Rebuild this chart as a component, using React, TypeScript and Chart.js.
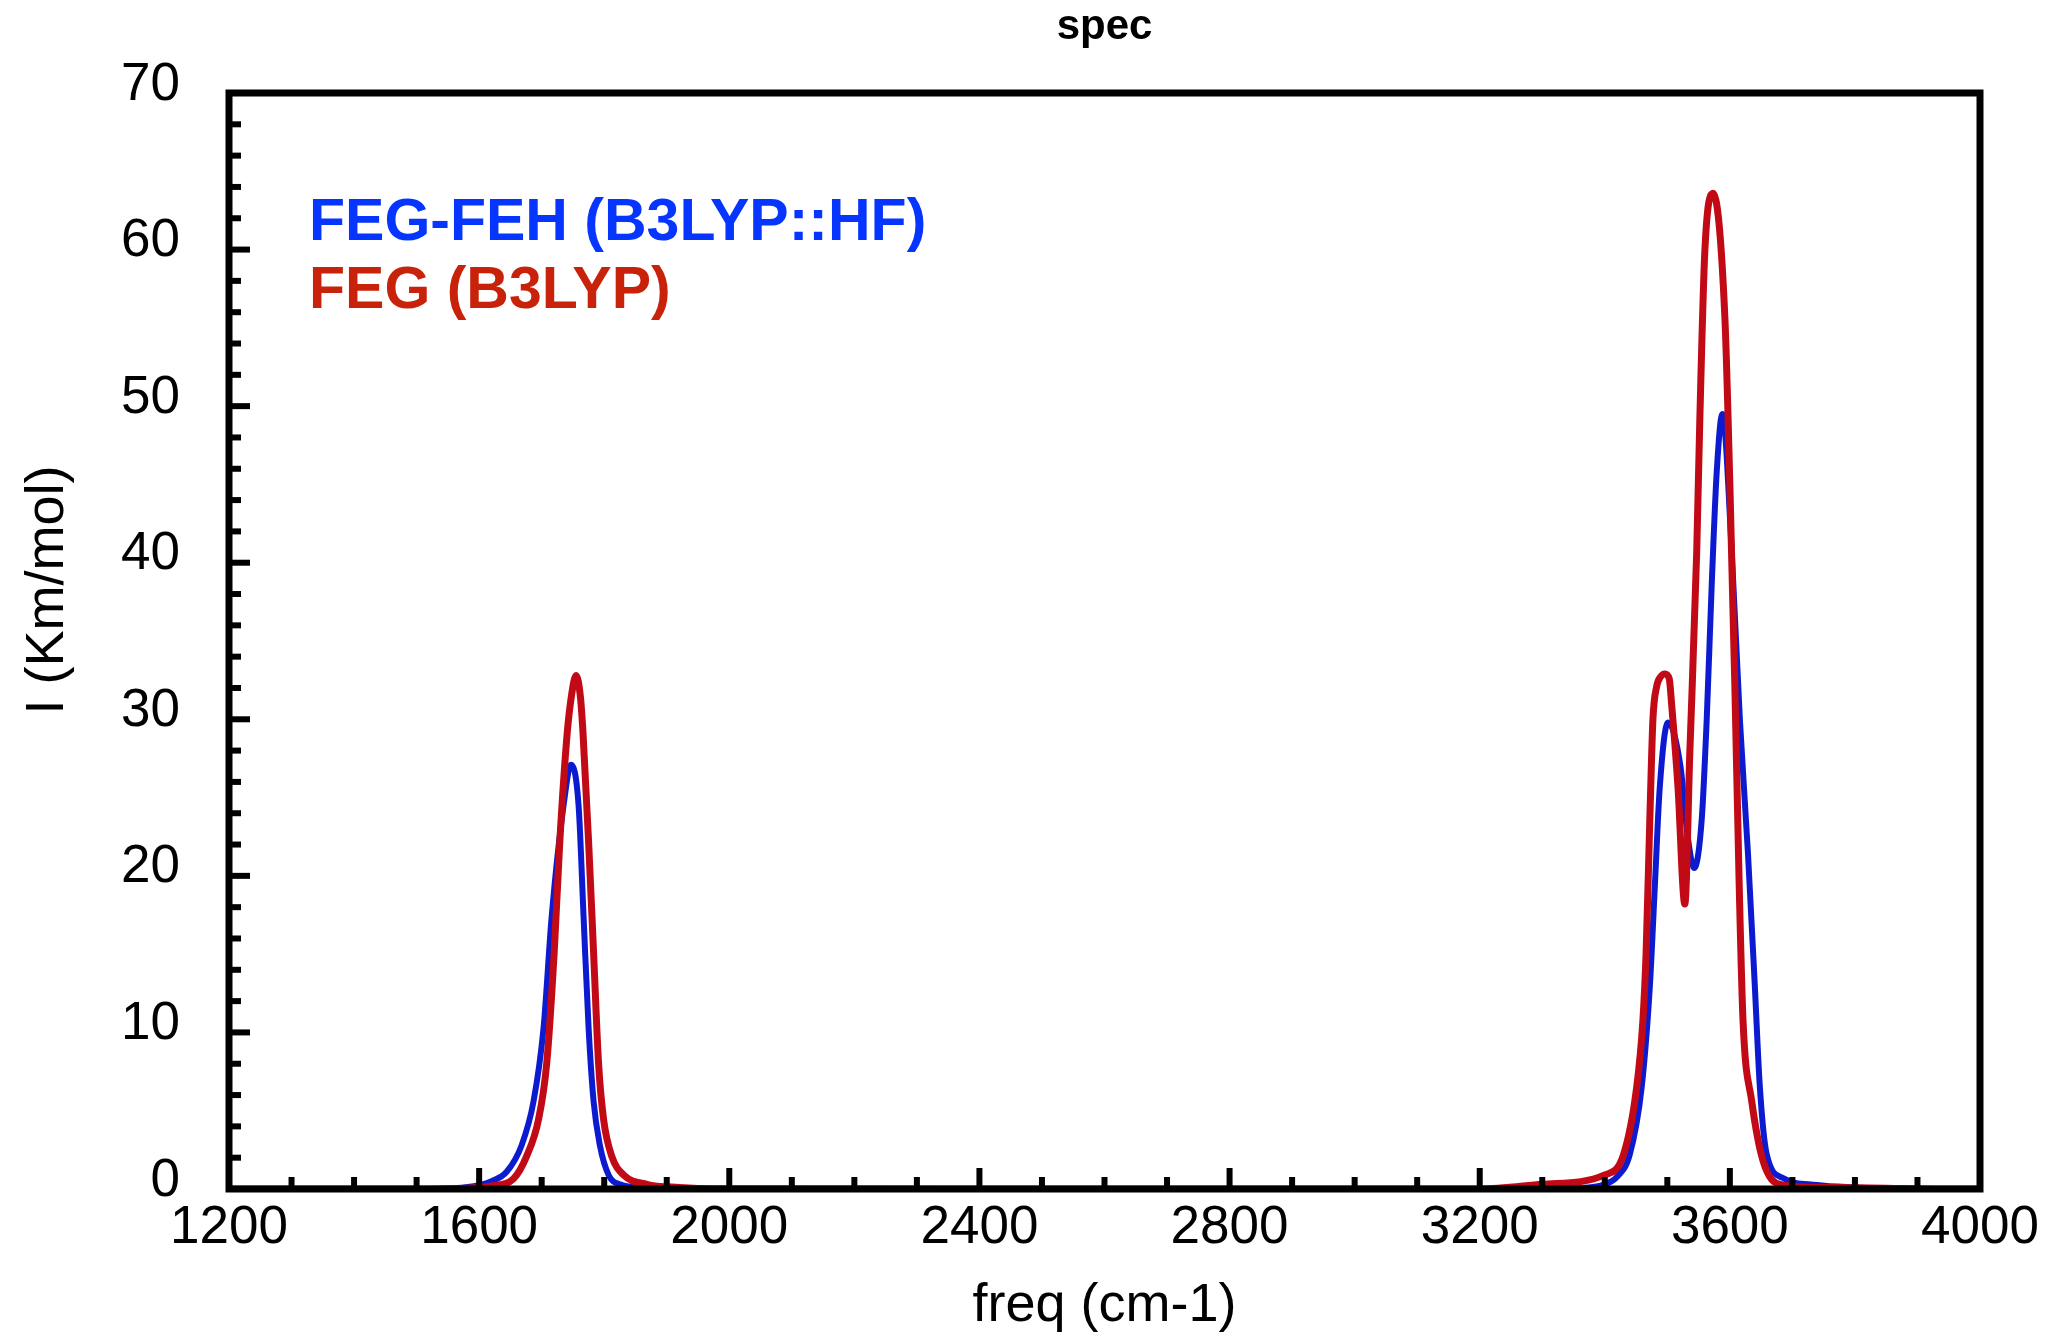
import React, { useEffect, useRef } from 'react';
import { Chart, registerables } from 'chart.js';

Chart.register(...registerables);

const FONT = '"Liberation Sans", Arial, Helvetica, sans-serif';

const chartTitle = 'spec';
const xAxisTitle = 'freq (cm-1)';
const yAxisTitle = 'I (Km/mol)';

const xMin = 1200;
const xMax = 4000;
const xMajor = 400;
const xMinor = 100;
const yMin = 0;
const yMax = 70;
const yMajor = 10;
const yMinor = 2;

const seriesLabels = ['FEG-FEH (B3LYP::HF)', 'FEG (B3LYP)'];
const lineColors = ['#0d1bd0', '#c20a16'];
const labelColors = ['#0535ff', '#c8230a'];

// FEG-FEH (B3LYP::HF)
const blueFreq = [1200, 1500, 1560, 1600, 1620, 1644, 1668, 1687, 1703, 1716, 1735, 1747, 1759, 1767, 1775, 1783, 1793, 1807, 1825, 1860, 1900, 2400, 2800, 3200, 3350, 3400, 3420, 3440, 3459, 3472, 3480, 3488, 3501, 3521, 3532, 3543, 3555, 3563, 3571, 3579, 3588, 3603, 3616, 3629, 3640, 3648, 3659, 3685, 3739, 3800, 3900, 4000];
const blueIntensity = [0, 0, 0.05, 0.25, 0.5, 1.1, 2.8, 5.6, 10.3, 17.4, 24.5, 27.1, 24.5, 17.4, 10.3, 5.6, 2.8, 0.9, 0.3, 0.1, 0, 0, 0, 0, 0.05, 0.3, 0.8, 2.2, 6.5, 12.9, 19.3, 25.7, 29.8, 27.0, 22.7, 20.5, 23.6, 30.0, 38.6, 45.8, 49.5, 40.7, 30.0, 21.4, 12.9, 6.5, 2.2, 0.7, 0.25, 0.1, 0, 0];

// FEG (B3LYP)
const redFreq = [1200, 1500, 1580, 1620, 1655, 1676, 1695, 1708, 1720, 1729, 1741, 1748, 1755, 1762, 1766, 1775, 1783, 1791, 1799, 1812, 1831, 1868, 1920, 1980, 2400, 2800, 3200, 3300, 3400, 3430, 3451, 3461, 3466, 3472, 3477, 3483, 3489, 3496, 3503, 3507, 3517, 3528, 3536, 3547, 3552, 3560, 3573, 3592, 3600, 3608, 3615, 3621, 3635, 3653, 3680, 3750, 3850, 3940, 4000];
const redIntensity = [0, 0, 0.05, 0.2, 0.66, 2.1, 4.45, 8.0, 15.1, 22.2, 29.2, 31.6, 32.8, 31.4, 29.2, 22.2, 15.1, 8.0, 4.45, 2.1, 0.9, 0.3, 0.1, 0.02, 0, 0, 0, 0.3, 0.9, 2.2, 6.5, 10.8, 15.0, 23.6, 30.0, 32.1, 32.7, 32.9, 32.6, 30.9, 25.7, 18.2, 27.9, 40.7, 49.2, 59.9, 63.6, 55.7, 45.0, 32.1, 19.3, 10.8, 5.6, 1.8, 0.3, 0.1, 0.05, 0, 0];

const toPoints = (xs: number[], ys: number[]) => xs.map((x, i) => ({ x, y: ys[i] }));

const framePlugin = {
  id: 'frameTicks',
  afterDatasetsDraw(chart: any) {
    const { ctx, chartArea: a, scales } = chart;
    const xs = scales.x;
    const ys = scales.y;
    ctx.save();
    ctx.strokeStyle = '#000';
    ctx.lineCap = 'butt';
    ctx.lineWidth = 6;
    for (let v = xMin + xMinor; v < xMax; v += xMinor) {
      const px = xs.getPixelForValue(v);
      const len = (v - xMin) % xMajor === 0 ? 21 : 12;
      ctx.beginPath();
      ctx.moveTo(px, a.bottom);
      ctx.lineTo(px, a.bottom - len);
      ctx.stroke();
    }
    for (let v = yMin + yMinor; v < yMax; v += yMinor) {
      const py = ys.getPixelForValue(v);
      const len = (v - yMin) % yMajor === 0 ? 21 : 12;
      ctx.beginPath();
      ctx.moveTo(a.left, py);
      ctx.lineTo(a.left + len, py);
      ctx.stroke();
    }
    ctx.lineWidth = 7;
    ctx.lineJoin = 'miter';
    ctx.strokeRect(a.left, a.top, a.right - a.left, a.bottom - a.top);
    ctx.restore();
  },
};

const textPlugin = {
  id: 'textLabels',
  afterDraw(chart: any) {
    const { ctx, chartArea: a } = chart;
    ctx.save();
    // chart title centred over the plot frame
    ctx.font = `bold 42px ${FONT}`;
    ctx.fillStyle = '#000';
    ctx.textAlign = 'center';
    ctx.textBaseline = 'alphabetic';
    ctx.fillText(chartTitle, (a.left + a.right) / 2, 39);
    // legend text inside plot
    ctx.font = `bold 59px ${FONT}`;
    ctx.textAlign = 'left';
    seriesLabels.forEach((label, i) => {
      ctx.fillStyle = labelColors[i];
      ctx.fillText(label, 309, 240 + i * 68);
    });
    // y axis title
    ctx.translate(48, 590);
    ctx.rotate(-Math.PI / 2);
    ctx.font = `54px ${FONT}`;
    ctx.fillStyle = '#000';
    ctx.textAlign = 'center';
    ctx.textBaseline = 'middle';
    ctx.fillText(yAxisTitle, 0, 0);
    ctx.restore();
  },
};

export default function App() {
  const canvasRef = useRef<HTMLCanvasElement | null>(null);

  useEffect(() => {
    if (!canvasRef.current) return;
    const chart = new Chart(canvasRef.current, {
      type: 'line',
      data: {
        datasets: [
          {
            label: seriesLabels[1],
            data: toPoints(redFreq, redIntensity),
            borderColor: lineColors[1],
            borderWidth: 7,
            pointRadius: 0,
            fill: false,
            cubicInterpolationMode: 'monotone',
          },
          {
            label: seriesLabels[0],
            data: toPoints(blueFreq, blueIntensity),
            borderColor: lineColors[0],
            borderWidth: 6,
            pointRadius: 0,
            fill: false,
            cubicInterpolationMode: 'monotone',
          },
        ],
      },
      options: {
        responsive: false,
        animation: false,
        parsing: false,
        layout: { padding: { top: 93, right: 72, bottom: 0, left: 0 } },
        plugins: {
          legend: { display: false },
          tooltip: { enabled: false },
          title: { display: false },
        },
        scales: {
          x: {
            type: 'linear',
            min: xMin,
            max: xMax,
            afterFit: (s: any) => {
              s.height = 150;
            },
            grid: { display: false, drawTicks: false },
            border: { display: false },
            ticks: {
              stepSize: xMajor,
              padding: 8,
              color: '#000',
              maxRotation: 0,
              autoSkip: false,
              font: { family: FONT, size: 53 },
              callback: (v: any) => String(v),
            },
            title: {
              display: true,
              text: xAxisTitle,
              color: '#000',
              font: { family: FONT, size: 54 },
              padding: { top: 0, bottom: 0 },
            },
          },
          y: {
            type: 'linear',
            min: yMin,
            max: yMax,
            afterFit: (s: any) => {
              s.width = 229;
            },
            grid: { display: false, drawTicks: false },
            border: { display: false },
            ticks: {
              stepSize: yMajor,
              padding: 49,
              labelOffset: -8,
              color: '#000',
              font: { family: FONT, size: 53 },
              callback: (v: any) => String(v),
            },
          },
        },
      } as any,
      plugins: [framePlugin, textPlugin],
    });
    return () => chart.destroy();
  }, []);

  return (
    <div style={{ position: 'absolute', left: 0, top: 0, width: 2052, height: 1339, background: '#fff' }}>
      <canvas ref={canvasRef} width={2052} height={1339} style={{ display: 'block' }} />
    </div>
  );
}
